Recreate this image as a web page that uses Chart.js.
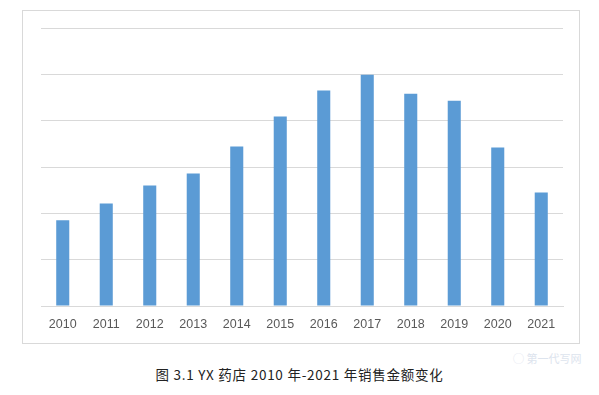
<!DOCTYPE html>
<html>
<head>
<meta charset="utf-8">
<script src="https://cdn.jsdelivr.net/npm/chart.js@4.4.0/dist/chart.umd.min.js"></script>
<style>
    body { margin: 0; background: #fff; width: 599px; height: 395px; position: relative; overflow: hidden; }
    #box {
        position: absolute; left: 22px; top: 10px; width: 558px; height: 334px;
        box-sizing: border-box; border: 1px solid #d9d9d9; background: #fff;
    }
    #caption {
        position: absolute; left: 0; width: 599px; top: 364px; text-align: center;
        font-family: "Noto Sans CJK SC", sans-serif; font-size: 13.5px; color: #222;
        letter-spacing: 0.75px;
    }
    #mark {
        position: absolute; left: 513px; top: 350px;
        font-family: "Noto Sans CJK SC", sans-serif; font-size: 11px; color: #dde4ee;
    }
</style>
</head>
<body>
<div id="box"><canvas id="myChart"></canvas></div>
<div id="caption">图 3.1 YX 药店 2010 年-2021 年销售金额变化</div>
<div id="mark">◯ 第一代写网</div>
<script>
// chart data
const years = ['2010', '2011', '2012', '2013', '2014', '2015', '2016', '2017', '2018', '2019', '2020', '2021'];
const sales = [1850, 2210, 2600, 2860, 3440, 4090, 4650, 4990, 4580, 4430, 3420, 2450];
const yMax = 6000;
const yStep = 1000;

const config = {
    type: 'bar',
    data: {
        labels: years,
        datasets: [{
            label: '销售金额',
            data: sales,
            backgroundColor: '#5b9bd5',
            barPercentage: 0.3,
            categoryPercentage: 1
        }]
    },
    options: {
        responsive: true,
        maintainAspectRatio: false,
        animation: false,
        layout: {
            padding: { left: 18, right: 16, top: 17, bottom: 0 }
        },
        plugins: {
            legend: { display: false },
            tooltip: { enabled: false }
        },
        scales: {
            x: {
                grid: { display: false, drawTicks: false },
                border: { color: '#d9d9d9', width: 1 },
                ticks: {
                    color: '#595959',
                    padding: 11,
                    maxRotation: 0,
                    font: { family: 'Liberation Sans', size: 12.5 }
                }
            },
            y: {
                min: 0,
                max: yMax,
                grid: { color: '#d9d9d9', lineWidth: 1, drawTicks: false },
                border: { display: false },
                ticks: { display: false, stepSize: yStep }
            }
        }
    }
};

let myChart = new Chart(document.getElementById('myChart'), config);
</script>
</body>
</html>
